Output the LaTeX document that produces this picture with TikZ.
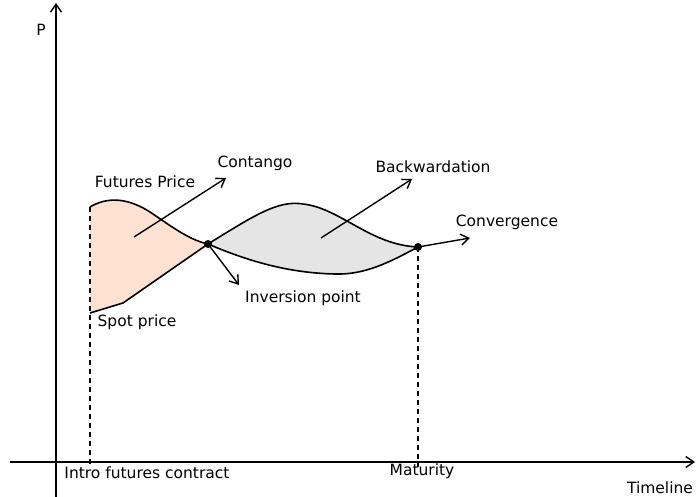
\documentclass[tikz,border=0pt]{standalone}
\usepackage{fontspec}
\setmainfont{DejaVu Sans}
\usetikzlibrary{arrows.meta}

\begin{document}
\begin{tikzpicture}[x=1pt,y=-1pt]
  \tikzset{lbl/.style={font=\fontsize{15.5}{18}\selectfont, inner sep=0pt},
    dot/.style={circle,fill=black,inner sep=0pt,minimum size=8pt},
    arr/.style={-{Straight Barb[length=8pt,width=11pt]}, line width=1.4pt},
    curve/.style={line width=1.6pt},
    guide/.style={line width=1.4pt, dash pattern=on 5pt off 4pt}}
  \useasboundingbox (0,0) rectangle (696,497);
  % points on the curves
  \coordinate (introtop) at (90,207);
  \coordinate (introlow) at (90,313);
  \coordinate (introaxis) at (90,467);
  \coordinate (mataxis) at (418,467);
  \coordinate (xstart) at (10,462);
  \coordinate (xend) at (695,462);
  \coordinate (ystart) at (56,497);
  \coordinate (yend) at (56,3);
  \coordinate (inv) at (208,244);
  \coordinate (conv) at (418,247);
  % areas
  \fill[red!25!orange!18] (introtop) .. controls (105,198) and (125,196) .. (150,212)
    .. controls (175,229) and (190,240) .. (inv) -- (123,303) -- (introlow) -- cycle;
  \fill[black!10] (inv) .. controls (255,215) and (278,200) .. (303,204)
    .. controls (340,208) and (370,245) .. (conv)
    .. controls (390,262) and (365,275) .. (335,274)
    .. controls (290,273) and (250,262) .. (inv) -- cycle;
  % curves
  \draw[curve] (introtop) .. controls (105,198) and (125,196) .. (150,212)
    .. controls (175,229) and (190,240) .. (inv)
    .. controls (250,262) and (290,273) .. (335,274)
    .. controls (365,275) and (390,262) .. (conv);
  \draw[curve] (introlow) -- (123,303) -- (inv)
    .. controls (255,215) and (278,200) .. (303,204)
    .. controls (340,208) and (370,245) .. (conv);
  % axes
  \draw[arr] (xstart) -- (xend);
  \draw[arr] (ystart) -- (yend);
  \draw[guide] (introtop) -- (introaxis);
  \draw[guide] (conv) -- (mataxis);
  % labels
  \node[lbl] (p) at (41,30) {P};
  \node[lbl] (futures) at (145,182) {Futures Price};
  \node[lbl] (contango) at (255,163) {Contango};
  \node[lbl] (backw) at (433,167) {Backwardation};
  \node[lbl] (convlbl) at (507,222) {Convergence};
  \node[lbl] (invlbl) at (303,298) {Inversion point};
  \node[lbl] (spot) at (137,322) {Spot price};
  \node[lbl] (intro) at (147,473) {Intro futures contract};
  \node[lbl] (maturity) at (422,471) {Maturity};
  \node[lbl] (timeline) at (660,488) {Timeline};
  % pointers
  \coordinate (contangotip) at (226,178);
  \coordinate (backwtip) at (412,179);
  \coordinate (convtip) at (470,238);
  \coordinate (invtip) at (239,285);
  \draw[arr] (134,237) -- (contangotip);
  \draw[arr] (321,238) -- (backwtip);
  \draw[arr] (conv) -- (convtip);
  \draw[arr] (inv) -- (invtip);
  \node[dot] (invdot) at (inv) {};
  \node[dot] (convdot) at (conv) {};
\end{tikzpicture}
\end{document}
